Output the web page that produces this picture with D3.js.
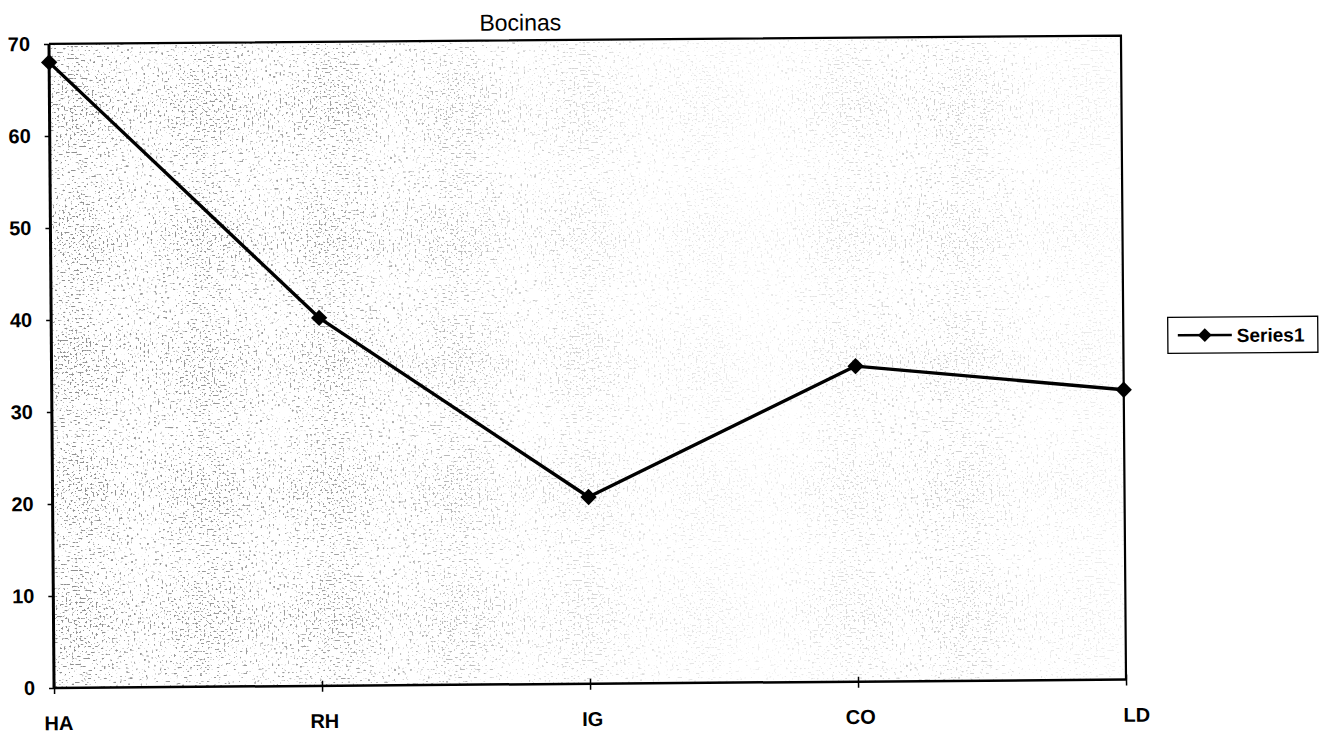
<!DOCTYPE html>
<html>
<head>
<meta charset="utf-8">
<script src="https://cdn.jsdelivr.net/npm/d3@7"></script>
<style>
  html, body { margin: 0; padding: 0; background: #fff; }
  svg { display: block; }
  text { font-family: "Liberation Sans", Arial, sans-serif; fill: #000; }
</style>
</head>
<body>
<svg id="chart" width="1323" height="736"></svg>
<script>
// Chart data
const categories = ["HA", "RH", "IG", "CO", "LD"];
const values = [68, 40, 20.3, 34.3, 31.5];
const yTicks = [0, 10, 20, 30, 40, 50, 60, 70];
const seriesName = "Series1";
const chartTitle = "Bocinas";

const plot = { left: 51.5, right: 1123.5, top: 39.75, bottom: 683.75 };
const cx = (plot.left + plot.right) / 2, cy = (plot.top + plot.bottom) / 2;

const svg = d3.select("#chart");

// Speckled paper texture for the plot background
const defs = svg.append("defs");
const f = defs.append("filter").attr("id", "speckle")
  .attr("x", 0).attr("y", 0).attr("width", 1).attr("height", 1);
f.append("feTurbulence").attr("type", "fractalNoise")
  .attr("baseFrequency", 0.5).attr("numOctaves", 3).attr("seed", 11).attr("result", "n");
f.append("feColorMatrix").attr("type", "matrix")
  .attr("values", "0 0 0 0 0.25  0 0 0 0 0.25  0 0 0 0 0.25  12 0 0 0 -7.0");

const grad = defs.append("linearGradient").attr("id", "fade")
  .attr("x1", 0).attr("x2", 1).attr("y1", 0).attr("y2", 0);
grad.append("stop").attr("offset", 0).attr("stop-color", "#fff").attr("stop-opacity", 0.95);
grad.append("stop").attr("offset", 0.26).attr("stop-color", "#fff").attr("stop-opacity", 0.8);
grad.append("stop").attr("offset", 0.5).attr("stop-color", "#fff").attr("stop-opacity", 0.35);
grad.append("stop").attr("offset", 0.65).attr("stop-color", "#fff").attr("stop-opacity", 0.15);
grad.append("stop").attr("offset", 0.82).attr("stop-color", "#fff").attr("stop-opacity", 0.45);
grad.append("stop").attr("offset", 1).attr("stop-color", "#fff").attr("stop-opacity", 0.12);
const mask = defs.append("mask").attr("id", "fadeMask");
mask.append("rect")
  .attr("x", plot.left).attr("y", plot.top)
  .attr("width", plot.right - plot.left).attr("height", plot.bottom - plot.top)
  .attr("fill", "url(#fade)");

// Whole sheet sits slightly tilted
const g = svg.append("g").attr("transform", `rotate(-0.45, ${cx}, ${cy})`);

const x = d3.scalePoint().domain(categories).range([plot.left, plot.right]);
const y = d3.scaleLinear().domain([0, 70]).range([plot.bottom, plot.top]);

g.append("rect")
  .attr("x", plot.left).attr("y", plot.top)
  .attr("width", plot.right - plot.left).attr("height", plot.bottom - plot.top)
  .attr("filter", "url(#speckle)")
  .attr("mask", "url(#fadeMask)");

// Plot frame (top and right)
g.append("path")
  .attr("d", `M${plot.left},${plot.top}H${plot.right}V${plot.bottom}`)
  .attr("fill", "none").attr("stroke", "#000").attr("stroke-width", 2.2);

// Y axis
const yAxis = g.append("g").attr("transform", `translate(${plot.left},0)`)
  .call(d3.axisLeft(y).tickValues(yTicks).tickSize(5).tickPadding(14).tickFormat(d3.format("d")));
yAxis.select(".domain").attr("stroke-width", 3).attr("d", `M0,${plot.top}V${plot.bottom}`);
yAxis.selectAll(".tick line").attr("stroke-width", 1.5);
yAxis.selectAll(".tick text")
  .style("font-family", "'Liberation Sans', Arial, sans-serif")
  .style("font-size", "20px").style("font-weight", "bold");

// X axis
const xAxis = g.append("g").attr("transform", `translate(0,${plot.bottom})`)
  .call(d3.axisBottom(x).tickSize(5).tickPadding(23));
xAxis.select(".domain").attr("stroke-width", 2.5).attr("d", `M${plot.left},0H${plot.right}`);
xAxis.selectAll(".tick line").attr("y1", -5).attr("y2", 6).attr("stroke-width", 1.5);
xAxis.selectAll(".tick text")
  .attr("dx", (d, i) => i === 0 ? 4 : (i === categories.length - 1 ? 10 : 2))
  .style("font-family", "'Liberation Sans', Arial, sans-serif")
  .style("font-size", "20px").style("font-weight", "bold");

// Series line
const pts = categories.map((c, i) => ({ c, v: values[i] }));
g.append("path").datum(pts)
  .attr("fill", "none").attr("stroke", "#000").attr("stroke-width", 3.4)
  .attr("stroke-linejoin", "round")
  .attr("d", d3.line().x(d => x(d.c)).y(d => y(d.v)));

const diamond = d3.symbol().type(d3.symbolDiamond2).size(170);
g.selectAll(".marker").data(pts).join("path")
  .attr("class", "marker")
  .attr("transform", d => `translate(${x(d.c)},${y(d.v)})`)
  .attr("d", diamond).attr("fill", "#000");

// Title
g.append("text")
  .attr("x", 523).attr("y", 30)
  .attr("text-anchor", "middle")
  .style("font-size", "23px")
  .text(chartTitle);

// Legend
const lg = g.append("g").attr("transform", "translate(1168,322)");
lg.append("rect").attr("width", 150).attr("height", 36)
  .attr("fill", "#fff").attr("stroke", "#000").attr("stroke-width", 1.3);
lg.append("line").attr("x1", 10).attr("x2", 64).attr("y1", 18).attr("y2", 18)
  .attr("stroke", "#000").attr("stroke-width", 2.5);
lg.append("path").attr("transform", "translate(37,18)")
  .attr("d", d3.symbol().type(d3.symbolDiamond2).size(120)).attr("fill", "#000");
lg.append("text").attr("x", 69).attr("y", 25)
  .style("font-size", "19px").style("font-weight", "bold")
  .text(seriesName);
</script>
</body>
</html>
